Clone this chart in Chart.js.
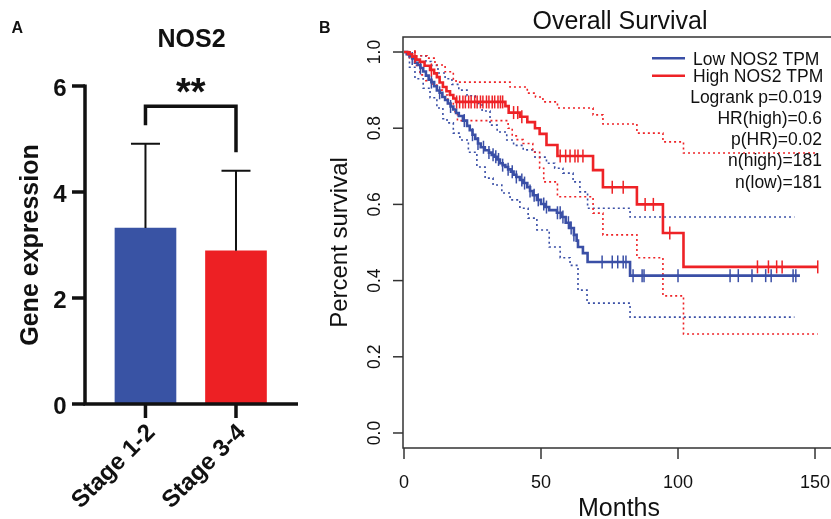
<!DOCTYPE html>
<html>
<head>
<meta charset="utf-8">
<script src="https://cdn.jsdelivr.net/npm/chart.js@4.4.1/dist/chart.umd.min.js"></script>
<style>
  html, body { margin: 0; padding: 0; background: #fff; overflow: hidden; }
  #wrap { position: relative; width: 831px; height: 519px; overflow: hidden; }
  #barBox { position: absolute; left: 0; top: 0; width: 300px; height: 519px; }
  #kmBox { position: absolute; left: 300px; top: 0; width: 560px; height: 519px; }
</style>
</head>
<body>
<div id="wrap">
  <div id="barBox"><canvas id="barChart"></canvas></div>
  <div id="kmBox"><canvas id="kmChart"></canvas></div>
</div>
<script>
// panel A: NOS2 expression by stage
const stages = ['Stage 1-2', 'Stage 3-4']
const meanExpr = [3.32, 2.89]
const sdExpr = [1.59, 1.51]
const barColors = ['#3953A4', '#ED2024']
const exprTicks = [0, 2, 4, 6]

// panel B: Kaplan-Meier, times in months
const lowT = [0,1,2,3,4,5,6,7,8,9,10,11,12,13,14,15,16,17,18,19,20,21.5,23,24,25,26,27,28,29.5,31,32,33,34,35,36,37,38,39,40,41,42.3,43.5,45,46,47,48.5,50,51.5,53,55.8,57.5,59,60.6,62,63,63.5,65.3,67,82.5,144.5]
const lowS = [1,0.994,0.989,0.983,0.972,0.966,0.958,0.949,0.938,0.927,0.921,0.91,0.899,0.893,0.882,0.874,0.865,0.857,0.849,0.84,0.832,0.82,0.806,0.795,0.783,0.772,0.76,0.75,0.742,0.736,0.73,0.725,0.718,0.708,0.703,0.698,0.692,0.686,0.678,0.672,0.664,0.656,0.645,0.635,0.624,0.612,0.601,0.593,0.585,0.578,0.567,0.552,0.538,0.52,0.505,0.488,0.472,0.449,0.413,0.413]
const highT = [0,1.5,3,4.5,5.8,7.5,9.5,11,12,13,14.2,15.5,16.8,18,19,37,38.2,42.3,45,47.8,49.5,52,56,69,72.6,85,94.5,102,151]
const highS = [1,0.994,0.988,0.98,0.974,0.964,0.953,0.944,0.934,0.92,0.908,0.897,0.887,0.878,0.869,0.858,0.841,0.83,0.816,0.8,0.785,0.756,0.727,0.69,0.645,0.6,0.525,0.436,0.436]

const highUpper = [[0,1],[4,0.99],[8.4,0.984],[11.3,0.966],[15,0.948],[18,0.927],[19,0.921],[38.7,0.908],[45,0.892],[48,0.882],[50.7,0.869],[56,0.853],[69,0.835],[72.6,0.811],[85,0.787],[94.5,0.764],[102,0.735],[151,0.735]]
const highLower = [[0,1],[2,0.985],[4,0.965],[5.8,0.94],[8,0.925],[10.6,0.913],[12,0.9],[14,0.887],[16,0.865],[18,0.843],[19.5,0.82],[38,0.8],[39.5,0.78],[41,0.77],[43.5,0.76],[47,0.737],[49.5,0.695],[51,0.659],[56,0.62],[69,0.577],[72.6,0.52],[85,0.46],[94.5,0.36],[102,0.26],[151,0.26]]
const lowUpper = [[0,1],[4,0.99],[8,0.975],[10,0.965],[12.4,0.945],[15,0.93],[17.5,0.915],[20,0.9],[23,0.885],[26,0.865],[28.5,0.845],[31.4,0.808],[34,0.79],[37.5,0.769],[40,0.755],[43.5,0.743],[47.8,0.724],[52,0.708],[55,0.695],[58,0.682],[61.7,0.659],[64.2,0.633],[67,0.59],[82.5,0.567],[142.5,0.567]]
const lowLower = [[0,1],[2,0.96],[4,0.93],[7,0.905],[9.5,0.88],[12,0.853],[14.2,0.825],[15.7,0.814],[18,0.787],[20.4,0.769],[23.5,0.737],[26.6,0.698],[29.6,0.669],[32.5,0.651],[35.7,0.63],[38.7,0.612],[42.3,0.59],[45.3,0.564],[48.5,0.533],[53,0.488],[57,0.46],[60.6,0.44],[63.5,0.375],[66.8,0.341],[82.5,0.304],[142.5,0.304]]

const highCensor = [4,10,19.2,20.3,21.5,22.4,23.6,24.5,25.8,26.7,27.9,28.8,30.1,31,32.2,33.1,34.3,35.2,36,40,41.5,43,57,59,60.6,62.4,63.5,65.3,76,80,88,91,97,129,133,136,138,151]
const lowCensor = [3,6,10,13,17,22,25,27,29,31,32.5,33.5,34.5,36,38,39.5,41,43,44,46,47.5,49,51,52,56,57,58,60,61,62,72.3,76,78,80,81,83.6,86.9,87.6,100,119,122,127,132,134,142,143]

const monthTicks = [0, 50, 100, 150]
const survTicks = [0, 0.2, 0.4, 0.6, 0.8, 1.0]
const legendNames = ['Low NOS2 TPM', 'High NOS2 TPM']
const legendStats = ['Logrank p=0.019', 'HR(high)=0.6', 'p(HR)=0.02', 'n(high)=181', 'n(low)=181']

const lowColor = '#3A4FA6'
const highColor = '#EE2226'
const sans = '"Liberation Sans", Arial, sans-serif'

function stepAt(T, S, t) {
  let s = S[0]
  for (let i = 0; i < T.length; i++) if (T[i] <= t) s = S[i]
  return s
}

// ---------- panel A ----------
const barDecor = {
  id: 'barDecor',
  afterDraw(chart) {
    const { ctx, chartArea: a, scales: { x, y } } = chart
    ctx.save()
    ctx.strokeStyle = '#111'
    ctx.fillStyle = '#111'

    // error bars (upper only)
    ctx.lineWidth = 2
    meanExpr.forEach((m, i) => {
      const cx = x.getPixelForValue(i)
      const top = y.getPixelForValue(m + sdExpr[i])
      ctx.beginPath()
      ctx.moveTo(cx, y.getPixelForValue(m))
      ctx.lineTo(cx, top)
      ctx.moveTo(cx - 14.5, top)
      ctx.lineTo(cx + 14.5, top)
      ctx.stroke()
    })

    // axes
    ctx.lineWidth = 3.5
    const y0 = y.getPixelForValue(0)
    ctx.beginPath()
    ctx.moveTo(a.left, y.getPixelForValue(6) - 1.5)
    ctx.lineTo(a.left, y0)
    ctx.lineTo(a.right, y0)
    ctx.stroke()

    ctx.font = 'bold 24px ' + sans
    ctx.textAlign = 'right'
    ctx.textBaseline = 'alphabetic'
    exprTicks.forEach(v => {
      const py = y.getPixelForValue(v)
      ctx.beginPath()
      ctx.moveTo(a.left - 13, py)
      ctx.lineTo(a.left, py)
      ctx.stroke()
      ctx.fillText(String(v), a.left - 18.5, py + 9.5)
    })

    stages.forEach((s, i) => {
      const cx = x.getPixelForValue(i)
      ctx.beginPath()
      ctx.moveTo(cx, y0)
      ctx.lineTo(cx, y0 + 14)
      ctx.stroke()
      ctx.save()
      ctx.translate(cx + 6, y0 + 25)
      ctx.rotate(-Math.PI / 4)
      ctx.textAlign = 'right'
      ctx.textBaseline = 'middle'
      ctx.fillText(s, 0, 0)
      ctx.restore()
    })

    // axis title
    ctx.save()
    ctx.font = 'bold 25px ' + sans
    ctx.translate(38, (a.top + y0) / 2)
    ctx.rotate(-Math.PI / 2)
    ctx.textAlign = 'center'
    ctx.fillText('Gene expression', 0, 0)
    ctx.restore()

    // title and panel letter
    ctx.textAlign = 'center'
    ctx.font = 'bold 25px ' + sans
    ctx.fillText('NOS2', (a.left + a.right) / 2, 46.5)
    ctx.textAlign = 'left'
    ctx.font = 'bold 16px ' + sans
    ctx.fillText('A', 11.5, 33.3)

    // significance bracket, a little above each error bar
    const xa = x.getPixelForValue(0), xb = x.getPixelForValue(1)
    const legA = y.getPixelForValue(meanExpr[0] + sdExpr[0] + 0.35)
    const legB = y.getPixelForValue(meanExpr[1] + sdExpr[1] + 0.35)
    const bar = y.getPixelForValue(5.62)
    ctx.lineWidth = 3.5
    ctx.beginPath()
    ctx.moveTo(xa, legA)
    ctx.lineTo(xa, bar)
    ctx.lineTo(xb, bar)
    ctx.lineTo(xb, legB)
    ctx.stroke()
    ctx.textAlign = 'center'
    ctx.font = 'bold 38px ' + sans
    ctx.fillText('**', (xa + xb) / 2, 105)
    ctx.restore()
  }
}

new Chart(document.getElementById('barChart'), {
  type: 'bar',
  data: {
    datasets: [{
      data: stages.map((s, i) => ({ x: i, y: meanExpr[i] })),
      backgroundColor: barColors,
      barThickness: 61,
      borderWidth: 0
    }]
  },
  options: {
    responsive: true,
    maintainAspectRatio: false,
    animation: false,
    layout: { padding: { left: 85, right: 2, top: 86, bottom: 115 } },
    scales: {
      x: { type: 'linear', display: false, offset: false, min: -0.668, max: 1.685 },
      y: { display: false, min: 0, max: 6 }
    },
    plugins: { legend: { display: false }, tooltip: { enabled: false } }
  },
  plugins: [barDecor]
})

// ---------- panel B ----------
const kmDecor = {
  id: 'kmDecor',
  afterDraw(chart) {
    const { ctx, chartArea: a, scales: { x, y } } = chart
    ctx.save()
    ctx.strokeStyle = '#333'
    ctx.fillStyle = '#111'
    ctx.lineWidth = 1.5
    ctx.beginPath()
    ctx.moveTo(chart.width, a.top)
    ctx.lineTo(a.left, a.top)
    ctx.lineTo(a.left, a.bottom)
    ctx.lineTo(chart.width, a.bottom)
    ctx.stroke()

    ctx.font = '18px ' + sans
    ctx.textAlign = 'center'
    ctx.textBaseline = 'alphabetic'
    monthTicks.forEach(v => {
      const px = x.getPixelForValue(v)
      ctx.beginPath()
      ctx.moveTo(px, a.bottom)
      ctx.lineTo(px, a.bottom + 11)
      ctx.stroke()
      ctx.fillText(String(v), px, 488)
    })
    ctx.font = '17.5px ' + sans
    survTicks.forEach(v => {
      const py = y.getPixelForValue(v)
      ctx.beginPath()
      ctx.moveTo(a.left - 10, py)
      ctx.lineTo(a.left, py)
      ctx.stroke()
      ctx.save()
      ctx.translate(80, py)
      ctx.rotate(-Math.PI / 2)
      ctx.fillText(v.toFixed(1), 0, 0)
      ctx.restore()
    })

    ctx.font = '24px ' + sans
    ctx.save()
    ctx.translate(47, (a.top + a.bottom) / 2)
    ctx.rotate(-Math.PI / 2)
    ctx.fillText('Percent survival', 0, 0)
    ctx.restore()
    ctx.font = '25px ' + sans
    ctx.fillText('Months', 319, 516)

    ctx.font = '25px ' + sans
    ctx.fillText('Overall Survival', 320, 29)

    // legend
    ctx.lineWidth = 2.5
    ;[lowColor, highColor].forEach((c, i) => {
      const ly = [58.3, 75.7][i]
      ctx.strokeStyle = c
      ctx.beginPath()
      ctx.moveTo(352, ly)
      ctx.lineTo(385, ly)
      ctx.stroke()
    })
    ctx.font = '17.5px ' + sans
    ctx.textAlign = 'left'
    ctx.fillText(legendNames[0], 393, 64.5)
    ctx.fillText(legendNames[1], 393, 82)
    ctx.textAlign = 'right'
    legendStats.forEach((s, i) => ctx.fillText(s, 522, 102.5 + i * 21.3))

    ctx.textAlign = 'left'
    ctx.font = 'bold 16px ' + sans
    ctx.fillText('B', 19, 33.3)
    ctx.restore()
  }
}

const stepLine = (pts, color, width, dash) => ({
  data: pts.map(p => ({ x: p[0], y: p[1] })),
  showLine: true,
  stepped: true,
  borderColor: color,
  borderWidth: width,
  borderDash: dash,
  pointRadius: 0,
  fill: false
})
const censorMarks = (times, T, S, color) => ({
  data: times.map(t => ({ x: t, y: stepAt(T, S, t) })),
  showLine: false,
  pointStyle: 'line',
  rotation: 90,
  pointRadius: 6.5,
  borderColor: color,
  borderWidth: 1.5
})

new Chart(document.getElementById('kmChart'), {
  type: 'scatter',
  data: {
    datasets: [
      stepLine(highT.map((t, i) => [t, highS[i]]), highColor, 2.6, []),
      censorMarks(highCensor, highT, highS, highColor),
      stepLine(lowT.map((t, i) => [t, lowS[i]]), lowColor, 2.6, []),
      censorMarks(lowCensor, lowT, lowS, lowColor),
      stepLine(highUpper, highColor, 1.6, [2, 3]),
      stepLine(highLower, highColor, 1.6, [2, 3]),
      stepLine(lowUpper, lowColor, 1.6, [2, 3]),
      stepLine(lowLower, lowColor, 1.6, [2, 3])
    ]
  },
  options: {
    responsive: true,
    maintainAspectRatio: false,
    animation: false,
    layout: { padding: { left: 103, right: 10, top: 37, bottom: 71 } },
    scales: {
      x: { type: 'linear', display: false, min: -0.365, max: 162.77 },
      y: { type: 'linear', display: false, min: -0.0394, max: 1.0394 }
    },
    plugins: { legend: { display: false }, tooltip: { enabled: false } }
  },
  plugins: [kmDecor]
})
</script>
</body>
</html>
